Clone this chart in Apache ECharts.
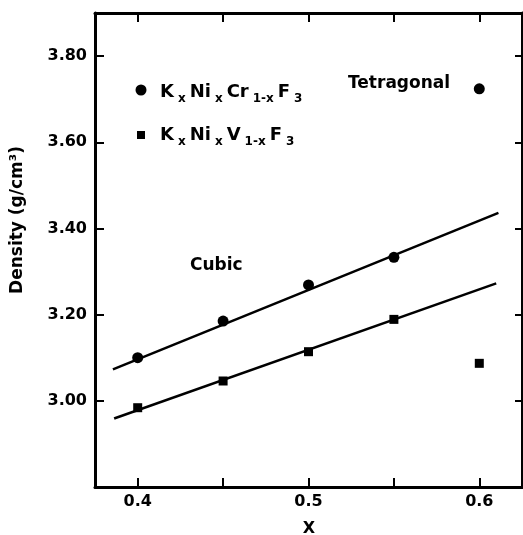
<!DOCTYPE html>
<html>
<head>
<meta charset="utf-8">
<script src="https://cdn.jsdelivr.net/npm/echarts@6/dist/echarts.min.js"></script>
<style>
  html, body { margin: 0; padding: 0; background: #fff; }
  #chart { width: 523px; height: 535px; }
</style>
</head>
<body>
<div id="chart"></div>
<script>
// measured compositions and densities
const xValues = [0.4, 0.45, 0.5, 0.55, 0.6];
const crDensity = [3.100, 3.185, 3.269, 3.333, 3.724];
const vDensity = [2.984, 3.046, 3.114, 3.189, 3.087];

// straight lines drawn through the cubic points (end points)
const crFitX = [0.3855, 0.6112];
const crFitY = [3.073, 3.436];
const vFitX = [0.3862, 0.6099];
const vFitY = [2.959, 3.2725];

const xTicks = [0.4, 0.45, 0.5, 0.55, 0.6];
const xLabels = [0.4, 0.5, 0.6];
const yTicks = [3.0, 3.2, 3.4, 3.6, 3.8];

const FONT = 'DejaVu Sans';
const INK = '#000';

const chart = echarts.init(document.getElementById('chart'), null, { renderer: 'canvas' });

const axisLine = { onZero: false, lineStyle: { color: INK, width: 3 } };
const labelStyle = { fontFamily: FONT, fontWeight: 'bold', fontSize: 16, color: INK };

function xAxisOf(position, showLabel) {
  return {
    type: 'value',
    position,
    min: 0.375,
    max: 0.625,
    axisLine,
    axisTick: { inside: true, length: 9, customValues: xTicks, lineStyle: { color: INK, width: 2 } },
    axisLabel: Object.assign({ show: showLabel, customValues: xLabels, margin: 7,
      formatter: v => v.toFixed(1) }, labelStyle),
    splitLine: { show: false }
  };
}

function yAxisOf(position, showLabel, tickLen) {
  return {
    type: 'value',
    position,
    min: 2.8,
    max: 3.9,
    axisLine,
    axisTick: { inside: true, length: tickLen, customValues: yTicks, lineStyle: { color: INK, width: 2 } },
    axisLabel: Object.assign({ show: showLabel, customValues: yTicks, margin: 8,
      formatter: v => v.toFixed(2) }, labelStyle),
    splitLine: { show: false }
  };
}

const mainRich = { fontFamily: FONT, fontWeight: 'bold', fontSize: 18, lineHeight: 18,
  verticalAlign: 'top', padding: [0, 4, 0, 0], fill: INK };
const subRich = { fontFamily: FONT, fontWeight: 'bold', fontSize: 12, lineHeight: 12,
  verticalAlign: 'top', padding: [10, 4, 0, 0], fill: INK };

const option = {
  animation: false,
  backgroundColor: '#fff',
  grid: { left: 95, right: 1, top: 13, bottom: 48 },
  xAxis: [xAxisOf('bottom', true), xAxisOf('top', false)],
  yAxis: [yAxisOf('left', true, 9), yAxisOf('right', false, 7)],
  series: [
    {
      type: 'line',
      data: crFitX.map((x, i) => [x, crFitY[i]]),
      showSymbol: false,
      silent: true,
      lineStyle: { color: INK, width: 2.5 }
    },
    {
      type: 'line',
      data: vFitX.map((x, i) => [x, vFitY[i]]),
      showSymbol: false,
      silent: true,
      lineStyle: { color: INK, width: 2.5 }
    },
    {
      type: 'scatter',
      symbol: 'circle',
      symbolSize: 11,
      itemStyle: { color: INK, opacity: 1 },
      data: xValues.map((x, i) => [x, crDensity[i]]),
      z: 3
    },
    {
      type: 'scatter',
      symbol: 'rect',
      symbolSize: 9,
      itemStyle: { color: INK, opacity: 1 },
      data: xValues.map((x, i) => [x, vDensity[i]]),
      z: 3
    }
  ],
  graphic: [
    { type: 'circle', shape: { cx: 141, cy: 90, r: 5.5 }, style: { fill: INK } },
    { type: 'rect', shape: { x: 137, y: 131, width: 8, height: 8 }, style: { fill: INK } },
    {
      type: 'text', x: 160, y: 83,
      style: {
        text: '{m|K}{s|x}{m|Ni}{s|x}{m|Cr}{s|1-x}{m|F}{s|3}',
        verticalAlign: 'top',
        rich: { m: mainRich, s: subRich }
      }
    },
    {
      type: 'text', x: 160, y: 126,
      style: {
        text: '{m|K}{s|x}{m|Ni}{s|x}{m|V}{s|1-x}{m|F}{s|3}',
        verticalAlign: 'top',
        rich: { m: mainRich, s: subRich }
      }
    },
    {
      type: 'text', x: 348, y: 84,
      style: { text: 'Tetragonal', font: 'bold 17px "DejaVu Sans"', fill: INK, verticalAlign: 'middle' }
    },
    {
      type: 'text', x: 190, y: 266,
      style: { text: 'Cubic', font: 'bold 17px "DejaVu Sans"', fill: INK, verticalAlign: 'middle' }
    },
    {
      type: 'text', x: 18, y: 220, rotation: Math.PI / 2,
      style: { text: 'Density (g/cm³)', font: 'bold 17px "DejaVu Sans"', fill: INK,
        align: 'center', verticalAlign: 'middle' }
    },
    {
      type: 'text', x: 309, y: 529,
      style: { text: 'X', font: 'bold 16px "DejaVu Sans"', fill: INK,
        align: 'center', verticalAlign: 'middle' }
    }
  ]
};

chart.setOption(option);
</script>
</body>
</html>
